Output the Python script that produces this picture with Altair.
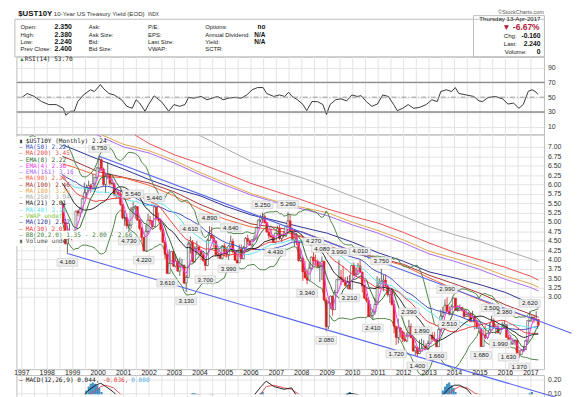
import altair as alt
import pandas as pd

W, H = 535, 389
X0, X1 = 1997.0, 2017.34

# ---------------- monthly closes, Jan 1995 .. Apr 2017 ----------------
closes = [
    7.60, 7.22, 7.20, 7.06, 6.28, 6.20, 6.43, 6.28, 6.18, 6.02, 5.74, 5.57,
    5.58, 6.10, 6.33, 6.67, 6.85, 6.73, 6.87, 6.98, 6.71, 6.34, 6.04, 6.42,
    6.49, 6.55, 6.90, 6.72, 6.66, 6.50, 6.01, 6.34, 6.10, 5.83, 5.87, 5.74,
    5.51, 5.62, 5.65, 5.67, 5.55, 5.45, 5.49, 4.98, 4.42, 4.61, 4.71, 4.65,
    4.65, 5.29, 5.24, 5.35, 5.62, 5.78, 5.90, 5.97, 5.88, 6.02, 6.19, 6.44,
    6.66, 6.41, 6.00, 6.21, 6.27, 6.03, 6.03, 5.72, 5.80, 5.75, 5.47, 5.11,
    5.11, 4.90, 4.92, 5.34, 5.38, 5.41, 5.05, 4.83, 4.59, 4.23, 4.75, 5.05,
    5.03, 4.88, 5.40, 5.09, 5.04, 4.80, 4.46, 4.14, 3.63, 3.89, 4.21, 3.82,
    3.96, 3.69, 3.80, 3.84, 3.37, 3.52, 4.41, 4.46, 3.94, 4.29, 4.33, 4.25,
    4.13, 3.97, 3.84, 4.51, 4.65, 4.58, 4.48, 4.12, 4.12, 4.03, 4.36, 4.22,
    4.13, 4.36, 4.48, 4.20, 3.98, 3.91, 4.28, 4.02, 4.32, 4.56, 4.49, 4.39,
    4.52, 4.55, 4.85, 5.05, 5.12, 5.14, 4.98, 4.73, 4.63, 4.60, 4.46, 4.70,
    4.82, 4.56, 4.64, 4.63, 4.89, 5.03, 4.74, 4.53, 4.58, 4.47, 3.97, 4.03,
    3.67, 3.51, 3.45, 3.77, 4.06, 3.97, 3.95, 3.81, 3.83, 3.95, 2.92, 2.21,
    2.84, 3.02, 2.66, 3.12, 3.46, 3.53, 3.48, 3.40, 3.31, 3.38, 3.21, 3.84,
    3.59, 3.61, 3.83, 3.66, 3.29, 2.97, 2.91, 2.47, 2.51, 2.60, 2.80, 3.29,
    3.37, 3.42, 3.45, 3.29, 3.06, 3.16, 2.80, 2.22, 1.92, 2.17, 2.07, 1.88,
    1.83, 1.98, 2.21, 1.91, 1.56, 1.65, 1.49, 1.55, 1.63, 1.69, 1.61, 1.76,
    1.98, 1.88, 1.85, 1.67, 2.13, 2.49, 2.58, 2.78, 2.61, 2.55, 2.74, 2.97,
    2.64, 2.65, 2.72, 2.65, 2.48, 2.53, 2.56, 2.34, 2.49, 2.34, 2.16, 2.17,
    1.68, 1.99, 1.92, 2.03, 2.12, 2.35, 2.18, 2.21, 2.04, 2.14, 2.21, 2.27,
    1.92, 1.74, 1.77, 1.83, 1.84, 1.47, 1.46, 1.58, 1.60, 1.83, 2.37, 2.45,
    2.45, 2.39, 2.40, 2.24,
]
# monthly highs / lows, Jan 1997 .. Apr 2017
highs = [
    6.65, 6.62, 6.95, 7.06, 6.90, 6.75, 6.50, 6.45, 6.35, 6.25, 5.98, 5.95,
    5.75, 5.65, 5.75, 5.75, 5.75, 5.60, 5.55, 5.50, 5.00, 4.90, 4.95, 4.75,
    4.79, 5.30, 5.33, 5.40, 5.65, 6.05, 5.99, 6.10, 6.02, 6.28, 6.20, 6.46,
    6.75, 6.70, 6.45, 6.28, 6.59, 6.24, 6.19, 6.05, 5.89, 5.85, 5.85, 5.47,
    5.31, 5.22, 5.00, 5.40, 5.54, 5.45, 5.42, 5.08, 4.87, 4.60, 4.92, 5.22,
    5.16, 5.03, 5.44, 5.40, 5.25, 5.06, 4.88, 4.52, 4.20, 4.27, 4.22, 4.25,
    4.15, 4.03, 4.05, 4.02, 3.87, 3.59, 4.49, 4.61, 4.52, 4.35, 4.49, 4.37,
    4.26, 4.18, 4.01, 4.56, 4.89, 4.87, 4.65, 4.52, 4.28, 4.18, 4.38, 4.43,
    4.33, 4.38, 4.64, 4.56, 4.25, 4.13, 4.40, 4.40, 4.36, 4.60, 4.66, 4.53,
    4.54, 4.64, 4.87, 5.07, 5.19, 5.25, 5.20, 5.00, 4.80, 4.83, 4.65, 4.71,
    4.90, 4.92, 4.67, 4.77, 4.90, 5.26, 5.19, 4.85, 4.72, 4.71, 4.48, 4.27,
    4.08, 3.97, 3.72, 3.90, 4.08, 4.27, 4.13, 4.00, 3.95, 4.08, 3.97, 2.99,
    2.89, 3.04, 3.04, 3.19, 3.46, 3.99, 3.72, 3.83, 3.53, 3.55, 3.59, 3.86,
    3.92, 3.78, 3.91, 4.01, 3.68, 3.32, 3.09, 2.99, 2.81, 2.68, 2.98, 3.55,
    3.50, 3.75, 3.59, 3.60, 3.33, 3.19, 3.22, 2.91, 2.17, 2.42, 2.20, 2.11,
    2.06, 2.06, 2.39, 2.29, 1.97, 1.71, 1.68, 1.86, 1.89, 1.85, 1.76, 1.84,
    2.06, 2.07, 2.07, 1.89, 2.23, 2.66, 2.74, 2.94, 2.99, 2.75, 2.80, 2.98,
    2.97, 2.78, 2.80, 2.73, 2.66, 2.65, 2.60, 2.56, 2.63, 2.49, 2.40, 2.31,
    2.12, 2.13, 2.24, 2.05, 2.30, 2.50, 2.43, 2.28, 2.28, 2.16, 2.34, 2.38,
    2.27, 1.99, 1.98, 1.90, 1.87, 1.87, 1.59, 1.61, 1.70, 1.86, 2.37, 2.62,
    2.51, 2.51, 2.62, 2.40,
]
lows = [
    6.42, 6.30, 6.50, 6.65, 6.55, 6.40, 5.95, 6.00, 6.05, 5.80, 5.78, 5.70,
    5.37, 5.45, 5.55, 5.55, 5.50, 5.40, 5.38, 4.98, 4.40, 4.16, 4.55, 4.51,
    4.60, 4.64, 5.15, 5.13, 5.25, 5.66, 5.64, 5.81, 5.78, 5.89, 5.84, 6.13,
    6.35, 6.36, 5.96, 5.77, 6.15, 5.97, 5.98, 5.68, 5.61, 5.62, 5.43, 5.07,
    4.90, 4.82, 4.73, 4.82, 5.20, 5.09, 5.03, 4.78, 4.50, 4.22, 4.23, 4.68,
    4.93, 4.82, 4.87, 5.06, 4.98, 4.74, 4.44, 4.01, 3.61, 3.62, 3.88, 3.80,
    3.79, 3.67, 3.56, 3.80, 3.34, 3.13, 3.52, 4.16, 3.92, 3.91, 4.12, 4.11,
    3.98, 3.93, 3.70, 3.82, 4.49, 4.55, 4.33, 4.09, 4.02, 4.01, 4.00, 4.08,
    4.05, 3.99, 4.32, 4.16, 3.97, 3.89, 3.91, 4.02, 4.01, 4.30, 4.39, 4.36,
    4.32, 4.51, 4.55, 4.83, 4.99, 4.97, 4.96, 4.72, 4.54, 4.56, 4.44, 4.43,
    4.64, 4.52, 4.46, 4.58, 4.60, 4.89, 4.74, 4.50, 4.35, 4.38, 3.94, 3.94,
    3.43, 3.50, 3.34, 3.44, 3.73, 3.86, 3.83, 3.78, 3.40, 3.45, 2.89, 2.08,
    2.14, 2.68, 2.50, 2.66, 3.12, 3.45, 3.31, 3.40, 3.27, 3.21, 3.21, 3.21,
    3.56, 3.56, 3.60, 3.66, 3.12, 2.94, 2.85, 2.47, 2.47, 2.41, 2.53, 2.84,
    3.27, 3.33, 3.15, 3.26, 3.01, 2.84, 2.77, 2.03, 1.72, 1.76, 1.92, 1.80,
    1.80, 1.79, 1.93, 1.90, 1.53, 1.44, 1.40, 1.48, 1.58, 1.63, 1.58, 1.58,
    1.76, 1.84, 1.81, 1.66, 1.67, 2.06, 2.47, 2.58, 2.61, 2.51, 2.55, 2.74,
    2.64, 2.61, 2.63, 2.61, 2.44, 2.47, 2.46, 2.34, 2.34, 2.13, 2.16, 2.08,
    1.68, 1.68, 1.87, 1.87, 2.03, 2.10, 2.18, 2.01, 2.04, 1.99, 2.14, 2.16,
    1.92, 1.63, 1.73, 1.72, 1.71, 1.46, 1.37, 1.46, 1.55, 1.59, 1.78, 2.33,
    2.33, 2.31, 2.35, 2.24,
]

# ---------------- long moving averages ----------------
ma250_t = [2003.95, 2005, 2006, 2007, 2008, 2009, 2010, 2011, 2012, 2013, 2014, 2015, 2016, 2017, 2017.3]
ma250_v = [7.32, 6.96, 6.62, 6.38, 6.18, 5.94, 5.68, 5.43, 5.15, 4.88, 4.66, 4.48, 4.24, 4.02, 3.94]
ma200_t = [2001.45, 2002, 2003, 2004, 2005, 2006, 2007, 2008, 2009, 2010, 2011, 2012, 2013, 2014, 2015, 2016, 2017, 2017.3]
ma200_v = [7.32, 7.09, 6.79, 6.56, 6.30, 6.03, 5.81, 5.59, 5.35, 5.15, 4.97, 4.72, 4.44, 4.19, 3.99, 3.79, 3.55, 3.45]
ma180_t = [2000.15, 2001, 2002, 2003, 2004, 2005, 2006, 2007, 2008, 2009, 2010, 2011, 2012, 2013, 2014, 2015, 2016, 2017, 2017.3]
ma180_v = [7.32, 7.07, 6.90, 6.64, 6.32, 6.04, 5.76, 5.55, 5.39, 5.25, 4.99, 4.77, 4.52, 4.22, 4.03, 3.82, 3.56, 3.35, 3.26]
ema161_t = [1999.95, 2001, 2002, 2003, 2004, 2005, 2006, 2007, 2008, 2009, 2010, 2011, 2012, 2013, 2014, 2015, 2016, 2017, 2017.3]
ema161_v = [7.32, 7.00, 6.84, 6.57, 6.26, 5.98, 5.72, 5.52, 5.35, 5.17, 4.92, 4.70, 4.44, 4.15, 3.95, 3.73, 3.47, 3.25, 3.16]
ma120_t = [1998.6, 1999, 2000, 2001, 2002, 2003, 2004, 2005, 2006, 2007, 2008, 2009, 2010, 2011, 2012, 2013, 2014, 2015, 2016, 2017, 2017.3]
ma120_v = [7.05, 6.95, 6.67, 6.41, 6.13, 5.89, 5.70, 5.42, 5.19, 5.03, 4.86, 4.70, 4.46, 4.18, 3.95, 3.67, 3.51, 3.33, 3.12, 2.82, 2.72]
ma100_t = ma120_t
ma100_v = [6.75, 6.64, 6.34, 6.19, 6.04, 5.80, 5.47, 5.20, 4.95, 4.85, 4.74, 4.48, 4.22, 4.04, 3.87, 3.58, 3.35, 3.10, 2.79, 2.54, 2.46]
ma90_t = ma120_t
ma90_v = [6.55, 6.47, 6.23, 6.18, 5.98, 5.69, 5.35, 5.07, 4.87, 4.78, 4.62, 4.37, 4.16, 4.02, 3.84, 3.51, 3.21, 2.92, 2.66, 2.44, 2.38]

# ---------------- RSI(14) ----------------
rsi_t = [1997.02, 1997.21, 1997.49, 1997.78, 1998.06, 1998.35, 1998.63, 1998.73, 1998.92, 1999.06,
         1999.2, 1999.42, 1999.7, 1999.85, 2000.09, 2000.2, 2000.42, 2000.63, 2000.92, 2001.13,
         2001.34, 2001.49, 2001.63, 2001.84, 2001.98, 2002.2, 2002.48, 2002.63, 2002.77, 2002.98,
         2003.2, 2003.41, 2003.55, 2003.77, 2004.05, 2004.27, 2004.48, 2004.7, 2004.91, 2005.12,
         2005.34, 2005.62, 2005.84, 2006.05, 2006.26, 2006.48, 2006.62, 2006.9, 2007.12, 2007.33,
         2007.48, 2007.62, 2007.83, 2008.05, 2008.19, 2008.4, 2008.62, 2008.83, 2008.97, 2009.11,
         2009.33, 2009.54, 2009.76, 2009.97, 2010.18, 2010.33, 2010.54, 2010.75, 2010.97, 2011.18,
         2011.4, 2011.61, 2011.75, 2011.97, 2012.18, 2012.39, 2012.61, 2012.89, 2013.11, 2013.32,
         2013.46, 2013.68, 2013.89, 2014.03, 2014.17, 2014.46, 2014.75, 2014.96, 2015.1, 2015.32,
         2015.6, 2015.89, 2016.1, 2016.32, 2016.53, 2016.7, 2016.9, 2017.05, 2017.2, 2017.28]
rsi_v = [50, 55, 51, 44, 40, 40, 35, 25.6, 31, 31,
         44, 53, 60, 57.6, 67, 62, 55, 53, 46.5, 37.6,
         35, 46.5, 42, 31, 40, 51.8, 44, 37.6, 31, 40,
         37.6, 40, 49.6, 48.7, 51, 46.5, 48.7, 51, 46.5, 48.7,
         49.6, 48.7, 53, 60, 63, 63, 55, 51, 53, 51,
         56.7, 51, 46.5, 40, 31.8, 44, 44, 40, 26.5, 40,
         46.5, 47.8, 45, 53, 51, 52, 44, 37.6, 40.7, 53,
         51, 40, 31.8, 35, 40, 35, 36, 40, 46.5, 44,
         57.6, 60, 57.6, 63, 55, 53, 51, 45, 44, 49.6,
         51, 47.8, 40.7, 42, 35, 40, 58, 60, 57, 53.7]

# ---------------- MACD strip (only its top is visible) ----------------
macd_t = [1998.9, 1999.3, 1999.6, 1999.9, 2000.1, 2000.3, 2000.6, 2000.9,
          2003.3, 2003.7, 2003.9, 2004.2, 2004.5, 2004.8,
          2005.7, 2006.1, 2006.4, 2006.6, 2006.9, 2007.3, 2007.6, 2007.9,
          2009.2, 2009.6, 2009.9, 2010.2, 2010.5,
          2013.1, 2013.5, 2013.8, 2014.0, 2014.2, 2014.5, 2014.8,
          2016.7, 2017.0, 2017.28]
macd_v = [0.0, 0.06, 0.12, 0.16, 0.175, 0.15, 0.11, 0.05,
          0.0, 0.07, 0.09, 0.08, 0.09, 0.05,
          0.0, 0.08, 0.15, 0.19, 0.15, 0.13, 0.14, 0.05,
          0.0, 0.08, 0.10, 0.09, 0.02,
          0.0, 0.08, 0.14, 0.16, 0.16, 0.13, 0.06,
          0.0, 0.07, 0.044]
sig_v = [0.0, 0.03, 0.08, 0.12, 0.15, 0.16, 0.14, 0.09,
         0.0, 0.04, 0.07, 0.08, 0.08, 0.07,
         0.0, 0.04, 0.10, 0.15, 0.16, 0.14, 0.13, 0.09,
         0.0, 0.05, 0.08, 0.09, 0.05,
         0.0, 0.04, 0.10, 0.13, 0.15, 0.14, 0.10,
         0.0, 0.02, -0.036]
hist_t = [1999.54, 1999.63, 1999.71, 1999.79, 1999.88, 1999.96, 2000.04, 2000.13,
          2003.71, 2003.79, 2006.38, 2006.46, 2009.79, 2009.88,
          2013.54, 2013.63, 2013.71, 2013.79, 2013.88, 2013.96, 2014.04, 2016.96, 2017.04]
hist_v = [0.12, 0.15, 0.17, 0.18, 0.17, 0.16, 0.14, 0.11,
          0.10, 0.10, 0.10, 0.11, 0.10, 0.11,
          0.12, 0.15, 0.17, 0.18, 0.16, 0.14, 0.11, 0.10, 0.11]

# ---------------- pivot labels ----------------
hi_t = [2000.04, 2001.37, 2002.21, 2003.62, 2004.37, 2005.21, 2006.46, 2007.46, 2008.46,
        2008.79, 2009.46, 2010.29, 2011.12, 2012.21, 2012.71, 2013.71, 2015.46, 2015.96, 2016.96]
hi_v = [6.75, 5.54, 5.44, 4.61, 4.89, 4.64, 5.25, 5.26, 4.27,
        4.08, 3.99, 4.01, 3.75, 2.39, 1.89, 2.99, 2.50, 2.38, 2.62]
lo_t = [1998.79, 2001.21, 2001.79, 2002.71, 2003.46, 2004.21, 2005.12, 2006.96, 2008.21,
        2008.96, 2009.87, 2010.79, 2011.71, 2012.54, 2013.29, 2013.79, 2015.04, 2015.79,
        2016.12, 2016.54]
lo_v = [4.16, 4.73, 4.22, 3.61, 3.13, 3.70, 3.99, 4.43, 3.34,
        2.08, 3.21, 2.41, 1.72, 1.40, 1.66, 2.51, 1.68, 1.99,
        1.63, 1.37]

# ---------------- trend lines ----------------
tl_id = ["low", "low", "top", "top"]
tl_t = [1998.79, 2018.6, 2000.04, 2018.6]
tl_v = [4.16, 0.20, 6.75, 2.03]

# ---------------- legend ----------------
leg_text = ["$UST10Y (Monthly) 2.24", "MA(50) 2.22", "MA(200) 3.45", "EMA(8) 2.22", "EMA(4) 2.36",
            "EMA(161) 3.16", "MA(90) 2.38", "MA(100) 2.46", "MA(180) 3.26", "MA(250) 3.94",
            "MA(21) 2.01", "MA(40) 2.16", "VWAP undef", "MA(120) 2.72", "MA(30) 2.03",
            "BB(20,2.0) 1.35 - 2.00 - 2.66", "Volume undef"]
C = {"ma50": "#3b4cc0", "ma200": "#e8504f", "ema8": "#2e6b2e", "ema4": "#ee3cee",
     "ema161": "#a86af0", "ma90": "#f5633a", "ma100": "#a83434", "ma180": "#e6a64a",
     "ma250": "#ababab", "ma21": "#222222", "ma40": "#5ee0ea", "vwap": "#86c640",
     "ma120": "#2b3192", "ma30": "#f03a3a", "bb": "#4b8443"}
leg_color = ["#222222", C["ma50"], C["ma200"], C["ema8"], C["ema4"], C["ema161"], C["ma90"],
             C["ma100"], C["ma180"], C["ma250"], C["ma21"], C["ma40"], C["vwap"], C["ma120"],
             C["ma30"], C["bb"], "#555555"]

years = list(range(1997, 2018))

header_left = [["Open:", "High:", "Low:", "Prev Close:"], ["Ask:", "Ask Size:", "Bid:", "Bid Size:"],
               ["P/E:", "EPS:", "Last Size:", "VWAP:"], ["Options:", "Annual Dividend:", "Yield:", "SCTR:"]]
header_vals1 = ["2.350", "2.380", "2.240", "2.400"]
header_vals4 = ["no", "N/A", "N/A", ""]

# ======================================================================
t_month = [1995 + (i + 0.5) / 12 for i in range(len(closes))]
pad = len(closes) - len(highs)
price = pd.DataFrame({"t": t_month, "close": closes,
                      "high": [None] * pad + highs, "low": [None] * pad + lows})
one = pd.DataFrame({"k": [0]})

XS = alt.Scale(domain=[X0, X1], nice=False, zero=False)


def ysc(dom, rng):
    return alt.Scale(domain=dom, range=rng, nice=False, zero=False)


RSI = ysc([0, 100], [125.2, 50.2])
MAIN = ysc([3, 7], [290.3, 138.2])
MACD = ysc([0.1, 0.2], [388, 374.3])
X = alt.X("t:Q", scale=XS, axis=None)
FONT = "Liberation Sans"
MONO = "DejaVu Sans Mono"


def yaxis(vals, fmt):
    return alt.Axis(orient="right", values=vals, format=fmt, labelFontSize=7, ticks=False,
                    tickSize=0, domain=False, grid=True, gridColor="#e4e4e4", labelPadding=3,
                    title=None, labelColor="#333", labelFont=FONT)


layers = []


def box(x1, x2, y1, y2, stroke="#bdbdbd", fill="#ffffff", fo=0.0):
    return alt.Chart(one).mark_rect(stroke=stroke, strokeWidth=1, fill=fill, fillOpacity=fo).encode(
        x=alt.value(x1), x2=alt.value(x2), y=alt.value(y1), y2=alt.value(y2))


layers += [box(-2, W, 8.7, 47), box(463, W, 5, 47), box(0, W, 47, 126), box(0, W, 126, 364),
           box(0, W, 370, 400)]

grid_t = [1997 + 0.5 * i for i in range(41)]
gdf = pd.DataFrame({"t": grid_t})
for (a, b) in [(47, 126), (126, 364), (370, 400)]:
    layers.append(alt.Chart(gdf).mark_rule(color="#e4e4e4", strokeWidth=1).encode(
        x=X, y=alt.value(a), y2=alt.value(b)))

# ---------------- RSI panel ----------------
rsidf = pd.DataFrame({"t": rsi_t, "v": rsi_v})
layers.append(alt.Chart(rsidf).mark_line(color="#222", strokeWidth=0.9).encode(
    x=X, y=alt.Y("v:Q", scale=RSI, axis=yaxis([10, 30, 50, 70, 90], "d"))))
for lev, dash, col in [(70, [1, 0], "#8c8c8c"), (30, [1, 0], "#8c8c8c"), (50, [5, 2, 1, 2], "#9a9a9a")]:
    layers.append(alt.Chart(one).mark_rule(color=col, strokeWidth=1.4 if lev != 50 else 1,
                                           strokeDash=dash).encode(
        y=alt.Y(datum=lev, scale=RSI, axis=None)))

# ---------------- main panel ----------------
srt = [alt.SortField("t")]
base = (alt.Chart(price)
        .transform_window(open="lag(close)", sort=srt)
        .transform_window(ema4="mean(close)", frame=[-3, 0], sort=srt)
        .transform_window(ema8="mean(close)", frame=[-7, 0], sort=srt)
        .transform_window(bbm="mean(close)", bbs="stdev(close)", frame=[-19, 0], sort=srt)
        .transform_window(ma21="mean(close)", frame=[-20, 0], sort=srt)
        .transform_window(ma30="mean(close)", frame=[-29, 0], sort=srt)
        .transform_window(ma40="mean(close)", frame=[-39, 0], sort=srt)
        .transform_window(ma50="mean(close)", frame=[-49, 0], sort=srt)
        .transform_calculate(bbu="datum.bbm + 2*datum.bbs", bbl="datum.bbm - 2*datum.bbs")
        .transform_filter("datum.t >= 1997"))

MAIN_AX = yaxis([1.25 + 0.25 * i for i in range(24)], ".2f")


def lline(ts, vs, color, w=1.0):
    return alt.Chart(pd.DataFrame({"t": ts, "v": vs})).mark_line(color=color, strokeWidth=w).encode(
        x=X, y=alt.Y("v:Q", scale=MAIN, axis=None))


def sline(field, color, w=1.0):
    return base.mark_line(color=color, strokeWidth=w).encode(
        x=X, y=alt.Y(f"{field}:Q", scale=MAIN, axis=None))


layers += [lline(ma250_t, ma250_v, C["ma250"]), lline(ma200_t, ma200_v, C["ma200"]),
           lline(ma180_t, ma180_v, C["ma180"]), lline(ema161_t, ema161_v, C["ema161"]),
           lline(ma120_t, ma120_v, C["ma120"]), lline(ma100_t, ma100_v, C["ma100"]),
           lline(ma90_t, ma90_v, C["ma90"])]
layers += [sline("bbu", C["bb"]), sline("bbl", C["bb"])]
up = "datum.close >= datum.open"
layers.append(base.mark_rule(strokeWidth=0.8).encode(
    x=X, y=alt.Y("low:Q", scale=MAIN, axis=MAIN_AX), y2="high:Q",
    color=alt.condition(up, alt.value("#444444"), alt.value("#d92020"))))
layers.append(base.mark_bar(size=2.0, strokeWidth=0.5).encode(
    x=X, y=alt.Y("open:Q", scale=MAIN, axis=None), y2="close:Q",
    fill=alt.condition(up, alt.value("#ffffff"), alt.value("#e02020")),
    stroke=alt.condition(up, alt.value("#222222"), alt.value("#e02020"))))
layers += [sline("ma50", C["ma50"]), sline("ma40", C["ma40"]), sline("ma30", C["ma30"]),
           sline("ma21", C["ma21"]), sline("ema8", C["ema8"]), sline("ema4", C["ema4"])]
tldf = pd.DataFrame({"t": tl_t, "v": tl_v, "id": tl_id})
layers.append(alt.Chart(tldf).mark_line(color="#5563ee", strokeWidth=1.1, clip=False).encode(
    x=X, y=alt.Y("v:Q", scale=MAIN, axis=None), detail="id:N"))

BOX = "M-1,-0.37L1,-0.37L1,0.37L-1,0.37Z"
for ts, vs, off in [(hi_t, hi_v, -8), (lo_t, lo_v, 9)]:
    ldf = pd.DataFrame({"t": ts, "v": vs, "s": [f"{v:.3f}" for v in vs]})
    layers.append(alt.Chart(ldf).mark_point(shape=BOX, size=440, filled=True, fill="#efefef",
                                            stroke="#c8c8c8", strokeWidth=0.6, opacity=1,
                                            yOffset=off).encode(
        x=X, y=alt.Y("v:Q", scale=MAIN, axis=None)))
    layers.append(alt.Chart(ldf).mark_text(fontSize=6.3, font=FONT, color="#222", dy=off).encode(
        x=X, y=alt.Y("v:Q", scale=MAIN, axis=None), text="s:N"))

ydf = pd.DataFrame({"t": years, "s": [str(y) for y in years]})
layers.append(alt.Chart(ydf).mark_text(fontSize=7, font=FONT, color="#222", baseline="middle").encode(
    x=X, y=alt.value(367.5), text="s:N"))

# ---------------- MACD strip ----------------
hdf = pd.DataFrame({"t": hist_t, "v": hist_v})
layers.append(alt.Chart(hdf).mark_bar(size=2.2, color="#3f8fc4", clip=True).encode(
    x=X, y=alt.Y("v:Q", scale=MACD, axis=yaxis([0.1, 0.2], ".2f")), y2=alt.Y2(datum=0)))
mdf = pd.DataFrame({"t": macd_t, "m": macd_v, "s": sig_v})
layers.append(alt.Chart(mdf).mark_line(color="#ee4444", strokeWidth=0.9, clip=True).encode(
    x=X, y=alt.Y("s:Q", scale=MACD, axis=None)))
layers.append(alt.Chart(mdf).mark_line(color="#111111", strokeWidth=0.9, clip=True).encode(
    x=X, y=alt.Y("m:Q", scale=MACD, axis=None)))


def txt(s, x, y, size=7.0, color="#222", weight="normal", align="left", font=FONT):
    return alt.Chart(one).mark_text(fontSize=size, color=color, fontWeight=weight, align=align,
                                    baseline="middle", font=font).encode(
        x=alt.value(x), y=alt.value(y), text=alt.value(s))


layers += [box(-1, 45, 128.5, 238, stroke="#ffffff", fo=1.0),
           box(-1, 88, 128.5, 135.5, stroke="#ffffff", fo=1.0),
           box(-1, 82, 223.5, 231, stroke="#ffffff", fo=1.0)]
for i, (s, col) in enumerate(zip(leg_text, leg_color)):
    y = 132 + i * 6.35
    lead = "▮" if i in (0, len(leg_text) - 1) else "—"
    layers.append(txt(lead, 2.5, y, 6, col, font=MONO))
    layers.append(txt(s, 9, y, 6.2, col, font=MONO))

layers += [txt("▲", 2.5, 49.5, 5.5, "#2e8b2e"), txt("RSI(14) 53.70", 8, 49.5, 6.2, "#222", font=MONO)]
layers += [txt("—", 2.5, 375, 6, "#111", font=MONO),
           txt("MACD(12,26,9) 0.044,", 9, 375, 6.2, "#222", font=MONO),
           txt("-0.036,", 87, 375, 6.2, "#e04040", font=MONO),
           txt("0.080", 116, 375, 6.2, "#5aaee0", font=MONO)]

layers += [txt("$UST10Y", 1.3, 3.5, 8, "#111", "bold"),
           txt("10-Year US Treasury Yield (EOD)", 37.5, 3.5, 6.2, "#333"),
           txt("INDX", 133, 4, 4.6, "#333")]
rows_y = [17, 24.3, 31.3, 38.7]
cols_x = [3.7, 73, 133, 191]
for cx, names in zip(cols_x, header_left):
    for ry, nm in zip(rows_y, names):
        layers.append(txt(nm, cx, ry, 6.0, "#222"))
for ry, v in zip(rows_y, header_vals1):
    layers.append(txt(v, 55.7, ry, 7, "#111", "bold", "right"))
for ry, v in zip(rows_y, header_vals4):
    if v:
        layers.append(txt(v, 252, ry, 6.5, "#111", "bold", "right"))
layers += [txt("©StockCharts.com", 534.5, 1.5, 5.6, "#555", align="right"),
           txt("Thursday  13-Apr-2017", 531, 8.5, 6.2, "#222", align="right"),
           txt("▼ -6.67%", 530, 17, 8.5, "#b0203a", "bold", "right"),
           txt("Chg:", 493.7, 25.3, 6.2), txt("-0.160", 531, 25.3, 6.8, "#111", "bold", "right"),
           txt("Last:", 493.7, 33.7, 6.2), txt("2.240", 531, 33.7, 6.8, "#111", "bold", "right"),
           txt("Volume:", 494.7, 42, 6.2), txt("0", 531, 42, 6.8, "#111", "bold", "right")]

chart = (alt.layer(*layers)
         .resolve_scale(y="independent")
         .properties(width=W, height=H, autosize=alt.AutoSizeParams(type="none"),
                     padding={"left": 9, "top": 0, "right": 33, "bottom": 0},
                     background="#ffffff")
         .configure_view(strokeWidth=0))

chart.save("out.html", embed_options={"renderer": "svg", "actions": False})
